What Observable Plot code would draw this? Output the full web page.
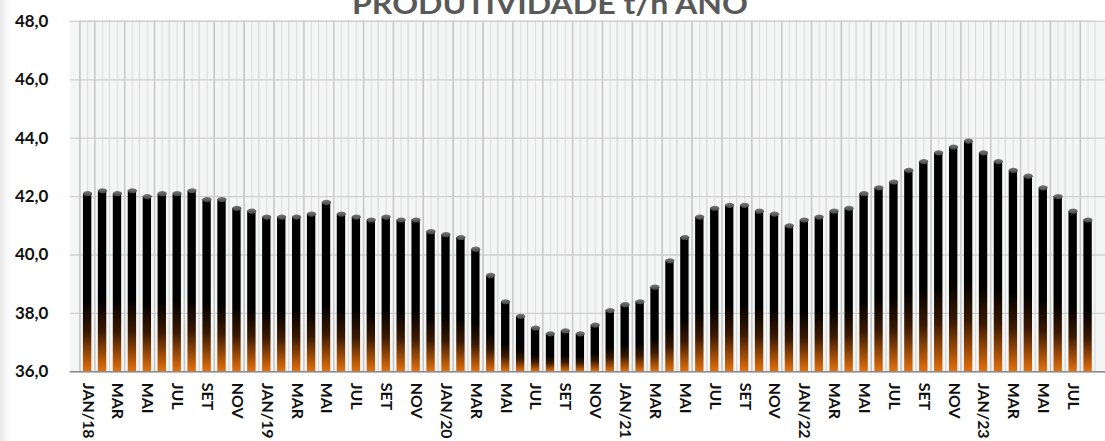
<!DOCTYPE html>
<html>
<head>
<meta charset="utf-8">
<script src="https://cdn.jsdelivr.net/npm/d3@7"></script>
<script src="https://cdn.jsdelivr.net/npm/@observablehq/plot@0.6"></script>
<style>
  html, body { margin: 0; padding: 0; background: #ffffff; overflow: hidden; }
  #wrap { position: relative; width: 1105px; height: 441px; overflow: hidden;
          background: linear-gradient(to right, #e9e9e9 0px, #f6f6f6 6px, #ffffff 12px); }
  #title { position: absolute; left: 0; top: 0; }
  #chart { position: absolute; left: 0; top: 0; }
</style>
</head>
<body>
<div id="wrap">
  <div id="chart"></div>
  <svg id="title" width="1105" height="30">
    <text x="550" y="14" text-anchor="middle" textLength="396" lengthAdjust="spacingAndGlyphs"
      font-family="Lato, 'Open Sans', sans-serif" font-weight="bold" font-size="29" fill="#595959">PRODUTIVIDADE t/h ANO</text>
  </svg>
</div>
<script>
// ---- data ----
const months = ["JAN","FEV","MAR","ABR","MAI","JUN","JUL","AGO","SET","OUT","NOV","DEZ"];
const years = ["18","19","20","21","22","23"];
const values = [
  42.1, 42.2, 42.1, 42.2, 42.0, 42.1, 42.1, 42.2, 41.9, 41.9, 41.6, 41.5, // 2018
  41.3, 41.3, 41.3, 41.4, 41.8, 41.4, 41.3, 41.2, 41.3, 41.2, 41.2, 40.8, // 2019
  40.7, 40.6, 40.2, 39.3, 38.4, 37.9, 37.5, 37.3, 37.4, 37.3, 37.6, 38.1, // 2020
  38.3, 38.4, 38.9, 39.8, 40.6, 41.3, 41.6, 41.7, 41.7, 41.5, 41.4, 41.0, // 2021
  41.2, 41.3, 41.5, 41.6, 42.1, 42.3, 42.5, 42.9, 43.2, 43.5, 43.7, 43.9, // 2022
  43.5, 43.2, 42.9, 42.7, 42.3, 42.0, 41.5, 41.2                          // 2023
];
const yDomain = [36, 48];
const yTicks = [36, 38, 40, 42, 44, 46, 48];

const categories = values.map((v, i) => months[i % 12] + "/" + years[Math.floor(i / 12)]);
const tickCats = categories.filter((c, i) => i % 2 === 0);
const tickLabel = c => c.startsWith("JAN") ? c : c.split("/")[0];
const data = categories.map((c, i) => ({cat: c, value: values[i]}));

// ---- layout ----
const W = 1110, H = 441, ML = 70, MR = 0, MT = 21, MB = 68;
const bw = (W - ML - MR) / categories.length;

const capSymbol = {
  draw(ctx) {
    const rx = 4.5, ry = 2.6, k = 0.5523;
    ctx.moveTo(-rx, 0);
    ctx.bezierCurveTo(-rx, -ry * k, -rx * k, -ry, 0, -ry);
    ctx.bezierCurveTo(rx * k, -ry, rx, -ry * k, rx, 0);
    ctx.bezierCurveTo(rx, ry * k, rx * k, ry, 0, ry);
    ctx.bezierCurveTo(-rx * k, ry, -rx, ry * k, -rx, 0);
    ctx.closePath();
  }
};

const chart = Plot.plot({
  width: W, height: H,
  marginLeft: ML, marginRight: MR, marginTop: MT, marginBottom: MB,
  style: {background: "transparent", fontFamily: "Lato, 'Open Sans', sans-serif", color: "#000"},
  x: {domain: categories, padding: 0, axis: null},
  y: {domain: yDomain, axis: null},
  marks: [
    Plot.frame({fill: "#f4f6f5", stroke: "none"}),
    // light vertical grid: band boundaries
    Plot.barY(categories, {x: d => d, y1: yDomain[0], y2: yDomain[1], fill: "none", stroke: "#d9dad9", strokeWidth: 1}),
    // darker boundaries every two bands
    Plot.ruleX(categories.filter((c, i) => i % 2 === 1), {x: d => d, dx: -bw / 2, stroke: "#c4c4c4", strokeWidth: 1.2}),
    // band centre lines
    Plot.ruleX(categories, {x: d => d, stroke: "#dcdddc", strokeWidth: 1}),
    Plot.gridY(yTicks, {stroke: "#cfcfcf", strokeOpacity: 1, strokeWidth: 1.3}),
    Plot.ruleX([categories[0]], {x: d => d, dx: -bw / 2, stroke: "#bdbdbd", strokeWidth: 1.2}),
    Plot.barY(data, {x: "cat", y1: yDomain[0], y2: "value", fill: "url(#barGrad)", insetLeft: 3.3, insetRight: 3.3}),
    Plot.dot(data, {x: "cat", y: "value", symbol: capSymbol, fill: "url(#capGrad)", stroke: "none"}),
    Plot.ruleY([yDomain[0]], {stroke: "#8c8c8c", strokeWidth: 1.6}),
    Plot.axisY(yTicks, {label: null, tickSize: 0, tickPadding: 22, tickFormat: d => d.toFixed(1).replace(".", ","),
      fontSize: 17, fontWeight: "bold", fill: "#111"}),
    Plot.axisX(tickCats, {label: null, tickSize: 0, tickPadding: 11, tickRotate: 90, tickFormat: tickLabel,
      fontSize: 16, fontWeight: "bold", fill: "#111"})
  ]
});

d3.select(chart).insert("defs", ":first-child").html(`
  <linearGradient id="barGrad" x1="0" y1="0" x2="0" y2="1">
    <stop offset="0" stop-color="#000000"/>
    <stop offset="0.6" stop-color="#000000"/>
    <stop offset="0.78" stop-color="#3a1903"/>
    <stop offset="1" stop-color="#e4700c"/>
  </linearGradient>
  <linearGradient id="capGrad" x1="0" y1="0" x2="0" y2="1">
    <stop offset="0" stop-color="#777777"/>
    <stop offset="1" stop-color="#484848"/>
  </linearGradient>`);

document.getElementById("chart").appendChild(chart);
</script>
</body>
</html>
